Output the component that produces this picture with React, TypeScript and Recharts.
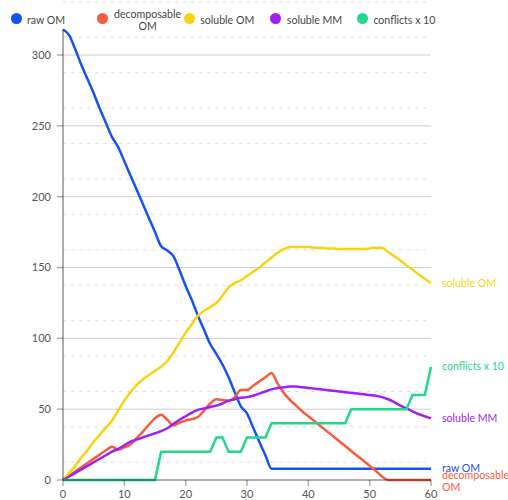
import type { ReactElement } from 'react'
import { LineChart, Line, XAxis, YAxis, CartesianGrid, Legend } from 'recharts'

// time steps 0..60
const steps = [
  0, 1, 2, 3, 4, 5, 6, 7, 8, 9, 10, 11, 12, 13, 14, 15, 16, 17, 18, 19, 20,
  21, 22, 23, 24, 25, 26, 27, 28, 29, 30, 31, 32, 33, 34, 35, 36, 37, 38, 39, 40,
  41, 42, 43, 44, 45, 46, 47, 48, 49, 50, 51, 52, 53, 54, 55, 56, 57, 58, 59, 60,
]

const rawOM = [
  318, 314, 304, 293, 283, 273, 262, 252, 242, 235, 225, 215, 205, 195, 185, 175, 165, 162, 158, 148, 137,
  127, 116, 106, 96, 89, 81.5, 72.5, 62, 52, 47, 37, 27, 17.5, 8, 8, 8, 8, 8, 8, 8,
  8, 8, 8, 8, 8, 8, 8, 8, 8, 8, 8, 8, 8, 8, 8, 8, 8, 8, 8, 8,
]

const decomposableOM = [
  0, 3, 6, 9, 12, 15, 18, 21, 23.5, 21.5, 23, 25, 29.5, 34, 39, 43.5, 46, 42.5, 38.5, 40.5, 42,
  43, 44.5, 49, 54, 57, 56.5, 56, 58.5, 63.5, 63.5, 66.5, 69.5, 72.5, 75.5, 68, 61.5, 56.5, 52.5, 48.5, 45,
  41.5, 38, 34.5, 31, 27.5, 24, 20.5, 17, 13.5, 10, 6.5, 2.5, 0, 0, 0, 0, 0, 0, 0, 0,
]

const solubleOM = [
  0, 5, 10, 16, 21, 27, 32, 37, 42, 49, 56, 62, 67, 71, 74, 77, 80, 84, 90, 97, 104,
  110, 116, 119.5, 122, 125, 130, 136, 139, 141, 144, 147, 150, 153.5, 157, 160.5, 163, 164.5, 164.5, 164.5, 164.5,
  164, 164, 163.5, 163.5, 163, 163, 163, 163, 163, 163.5, 164, 164, 161, 158, 155, 151.5, 148.5, 145, 142, 139,
]

const solubleMM = [
  0, 2.5, 5, 7.5, 10, 12.5, 15, 17.5, 20, 22, 24.5, 27, 28.5, 30, 31.5, 33, 34.5, 36.5, 39.5, 42.5, 45,
  47.5, 49.5, 50.5, 51.5, 52.5, 54, 56, 57, 58, 58.5, 59.5, 61, 62.5, 64, 65, 65.5, 66, 66, 65.5, 65,
  64.5, 64, 63.5, 63, 62.5, 62, 61.5, 61, 60.5, 60, 59.5, 58.5, 57, 55, 52.5, 50.5, 48.5, 46.5, 45, 43.5,
]

const conflictsX10 = [
  0, 0, 0, 0, 0, 0, 0, 0, 0, 0, 0, 0, 0, 0, 0, 0, 20, 20, 20, 20, 20,
  20, 20, 20, 20, 30, 30, 20, 20, 20, 30, 30, 30, 30, 40, 40, 40, 40, 40, 40, 40,
  40, 40, 40, 40, 40, 40, 50, 50, 50, 50, 50, 50, 50, 50, 50, 50, 60, 60, 60, 80,
]

const xTicks = [0, 10, 20, 30, 40, 50, 60]
const yTicks = [0, 50, 100, 150, 200, 250, 300]
// dashed lines between the labelled ticks, four bands per 50
const yMinor = yTicks.flatMap((v) => [v + 12.5, v + 25, v + 37.5])

const series = [
  { key: 'rawOM', name: 'raw OM', color: '#1552F2', values: rawOM, smooth: true },
  { key: 'decomposableOM', name: 'decomposable OM', color: '#F95A3C', values: decomposableOM, smooth: true },
  { key: 'solubleOM', name: 'soluble OM', color: '#FAD30F', values: solubleOM, smooth: true },
  { key: 'solubleMM', name: 'soluble MM', color: '#A01FF2', values: solubleMM, smooth: true },
  { key: 'conflictsX10', name: 'conflicts x 10', color: '#20D98B', values: conflictsX10, smooth: false },
]

const data = steps.map((t, i) => {
  const row: Record<string, number> = { t }
  series.forEach((s) => {
    row[s.key] = s.values[i]
  })
  return row
})

const AXIS_COLOR = 'rgba(0,0,0,0.32)'
const FONT = 'Lato, "Open Sans", sans-serif'
const TEXT_SIZE = 10.6

function renderLegend(): ReactElement {
  return (
    <div style={{ position: 'relative', width: 508, height: 20, fontFamily: FONT, fontSize: TEXT_SIZE, color: '#444' }}>
      {series.map((s, i) => {
        const cx = 16 + i * 86.6
        return (
          <div key={s.key}>
            <span
              style={{
                position: 'absolute',
                left: cx - 5.5,
                top: 12.5,
                width: 11,
                height: 11,
                borderRadius: '50%',
                background: s.color,
              }}
            />
            <div
              style={{
                position: 'absolute',
                left: cx + 11,
                top: 7.5,
                height: 24,
                width: 68,
                display: 'flex',
                alignItems: 'center',
              }}
            >
              <span style={{ display: 'inline-block', textAlign: 'center', lineHeight: '12px', whiteSpace: 'normal' }}>
                {s.name}
              </span>
            </div>
          </div>
        )
      })}
    </div>
  )
}

// name written next to the last point of each line
function endLabel(name: string, color: string) {
  return (props: any) => {
    const { x, y, index } = props
    if (index !== steps.length - 1) return null
    const words = name === 'decomposable OM' ? ['decomposable', 'OM'] : [name]
    const startY = words.length > 1 ? y - 5 : y
    return (
      <text x={x + 11} y={startY} fill={color} fontSize={TEXT_SIZE} fontFamily={FONT} textAnchor="start">
        {words.map((w, k) => (
          <tspan key={w} x={x + 11} dy={k === 0 ? '0.35em' : 12}>
            {w}
          </tspan>
        ))}
      </text>
    )
  }
}

export default function App(): ReactElement {
  return (
    <div style={{ position: 'absolute', left: 0, top: 0, width: 508, height: 500, background: '#fff', fontFamily: FONT }}>
      <LineChart width={508} height={500} data={data} margin={{ top: 9.5, right: 77, bottom: 0, left: 0 }}>
        <Legend verticalAlign="top" height={20} content={renderLegend} wrapperStyle={{ left: 0, top: 0, width: 508 }} />
        <CartesianGrid vertical={false} horizontalValues={yMinor} stroke="#dcdcdc" strokeDasharray="3 5" />
        <CartesianGrid vertical={false} horizontalValues={yTicks.slice(1)} stroke="#cfcfcf" />
        {series.map((s) => (
          <Line
            key={s.key}
            dataKey={s.key}
            name={s.name}
            type={s.smooth ? 'monotone' : 'linear'}
            stroke={s.color}
            strokeWidth={2.5}
            dot={false}
            activeDot={false}
            isAnimationActive={false}
            label={endLabel(s.name, s.color)}
          />
        ))}
        <XAxis
          dataKey="t"
          type="number"
          domain={[0, 60]}
          ticks={xTicks}
          height={20}
          tickSize={6}
          tickMargin={4}
          stroke={AXIS_COLOR}
          axisLine={{ stroke: AXIS_COLOR, strokeWidth: 2 }}
          tickLine={{ stroke: AXIS_COLOR, strokeWidth: 1.5 }}
          tick={{ fill: '#555', fontSize: 11 }}
        />
        <YAxis
          type="number"
          domain={[0, 318]}
          ticks={yTicks}
          width={63}
          tickSize={6}
          tickMargin={6}
          axisLine={{ stroke: AXIS_COLOR, strokeWidth: 2 }}
          tickLine={{ stroke: AXIS_COLOR, strokeWidth: 1.5 }}
          tick={{ fill: '#555', fontSize: 11 }}
        />
      </LineChart>
    </div>
  )
}
